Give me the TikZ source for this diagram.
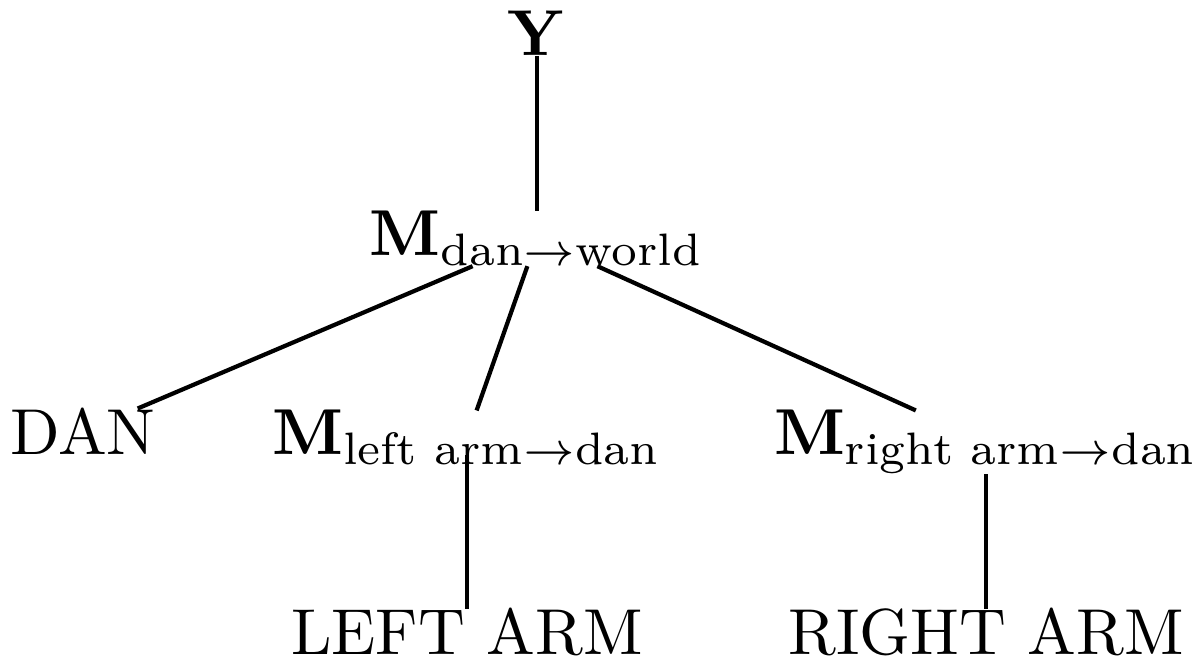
\documentclass[tikz,border=0pt]{standalone}
\usepackage{amsmath}
\usepackage{amssymb}
\usepackage{tikz}

\begin{document}
\begin{tikzpicture}[x=0.154pt, y=-0.154pt,
    every node/.style={inner sep=0pt, outer sep=0pt, anchor=base},
    branch/.style={line width=0.65pt}]
  \useasboundingbox (0,0) rectangle (1197,659);

  \node (Y) at (537,56) {$\mathbf{Y}$};
  \node (Mdw) at (537,256) {$\mathbf{M}_{\text{dan}\rightarrow\text{world}}$};
  \node (DAN) at (83,455) {DAN};
  \node (Mleft) at (467,455) {$\mathbf{M}_{\text{left arm}\rightarrow\text{dan}}$};
  \node (Mright) at (986,455) {$\mathbf{M}_{\text{right arm}\rightarrow\text{dan}}$};
  \node (LA) at (467,655) {LEFT ARM};
  \node (RA) at (986,655) {RIGHT ARM};

  \foreach \a/\b in {Y/Mdw, Mdw/DAN, Mdw/Mleft, Mdw/Mright, Mright/RA}{
    \draw[branch] (\a) -- (\b);
  }
  \draw[branch, shorten <=-1.5pt] (Mleft) -- (LA);
\end{tikzpicture}
\end{document}
